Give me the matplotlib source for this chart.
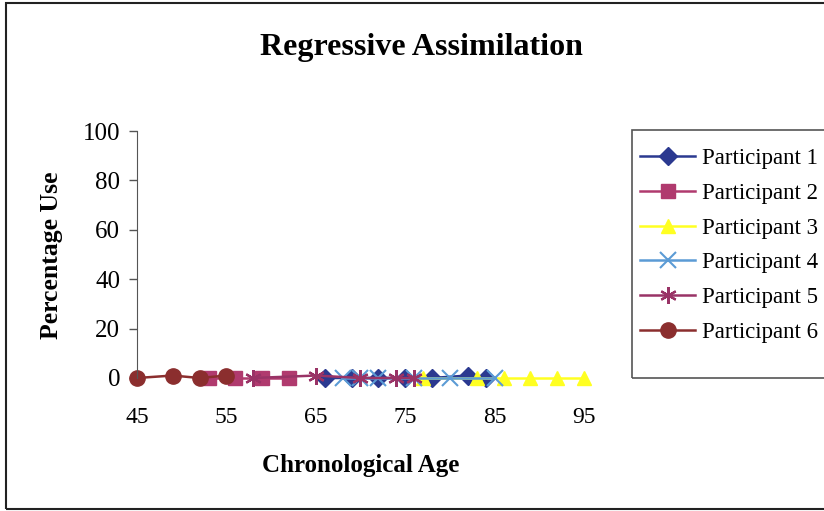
import matplotlib.pyplot as plt
from matplotlib.patches import Rectangle

# data (age, percentage use)
p1_age = [66, 69, 72, 75, 78, 82, 84]
p1_use = [0, 0, 0, 0, 0, 1, 0]
p2_age = [53, 56, 59, 62]
p2_use = [0, 0, 0, 0]
p3_age = [77, 83, 86, 89, 92, 95]
p3_use = [0, 0, 0, 0, 0, 0]
p4_age = [68, 70, 72, 76, 80, 85]
p4_use = [0, 0, 0, 0, 0, 0]
p5_age = [58, 65, 70, 74, 76]
p5_use = [0, 1, 0, 0, 0]
p6_age = [45, 49, 52, 55]
p6_use = [0, 1, 0, 1]

x_ticks = [45, 55, 65, 75, 85, 95]
y_ticks = [0, 20, 40, 60, 80, 100]

plt.rcParams['font.family'] = ['Liberation Serif', 'DejaVu Serif']

W, H = 824, 511
fig = plt.figure(figsize=(W / 100, H / 100), dpi=100)
# outer chart border, right side runs off the picture
fig.patches.append(Rectangle((6 / W, 2 / H), 1.2, 1 - 5 / H, transform=fig.transFigure,
                             fill=False, edgecolor='#222222', linewidth=1.5))
# legend box (drawn by hand so it can be taller than its entries)
fig.patches.append(Rectangle((632 / W, 1 - 378 / H), 0.5, (378 - 130) / H,
                             transform=fig.transFigure, fill=False,
                             edgecolor='#555555', linewidth=1.2))

ax = fig.add_axes([137 / W, 1 - 378 / H, (584 - 137) / W, (378 - 131) / H])

series = [
    ('Participant 1', p1_age, p1_use, '#2B3990', 'D', 9, None),
    ('Participant 2', p2_age, p2_use, '#B03A6E', 's', 10, None),
    ('Participant 3', p3_age, p3_use, '#FFFF22', '^', 10, None),
    ('Participant 4', p4_age, p4_use, '#5B9BD5', 'x', 11, 1.5),
    ('Participant 5', p5_age, p5_use, '#993366', (6, 2, 0), 12, 1.6),
    ('Participant 6', p6_age, p6_use, '#8B2E2E', 'o', 11, None),
]
for name, xs, ys, col, mk, ms, mew in series:
    kw = dict(color=col, marker=mk, markersize=ms, linewidth=1.8, label=name,
              markerfacecolor=col, markeredgecolor=col, clip_on=False)
    if mew:
        kw['markeredgewidth'] = mew
    ax.plot(xs, ys, **kw)

ax.set_xlim(45, 95)
ax.set_ylim(0, 100)
ax.set_xticks(x_ticks)
ax.set_yticks(y_ticks)
for s in ['top', 'right', 'bottom']:
    ax.spines[s].set_visible(False)
ax.spines['left'].set_color('#555555')
ax.tick_params(axis='x', length=0, pad=21, labelsize=17)
ax.tick_params(axis='y', length=6, width=1, color='#555555', pad=6, labelsize=18)

fig.text(421 / W, 1 - 48 / H, 'Regressive Assimilation', fontsize=23,
         fontweight='bold', ha='center', va='center')
fig.text(361 / W, 1 - 465 / H, 'Chronological Age', fontsize=18,
         fontweight='bold', ha='center', va='center')
fig.text(52 / W, 1 - 255 / H, 'Percentage Use', fontsize=18.5,
         fontweight='bold', ha='center', va='center', rotation=90)

leg = fig.legend(loc='upper left', bbox_to_anchor=(640 / W, 1 - 148 / H),
                 fontsize=16.5, frameon=False, handlelength=2.4,
                 handletextpad=0.3, labelspacing=0.6, borderpad=0,
                 borderaxespad=0)

fig.savefig('out.png', dpi=100)
